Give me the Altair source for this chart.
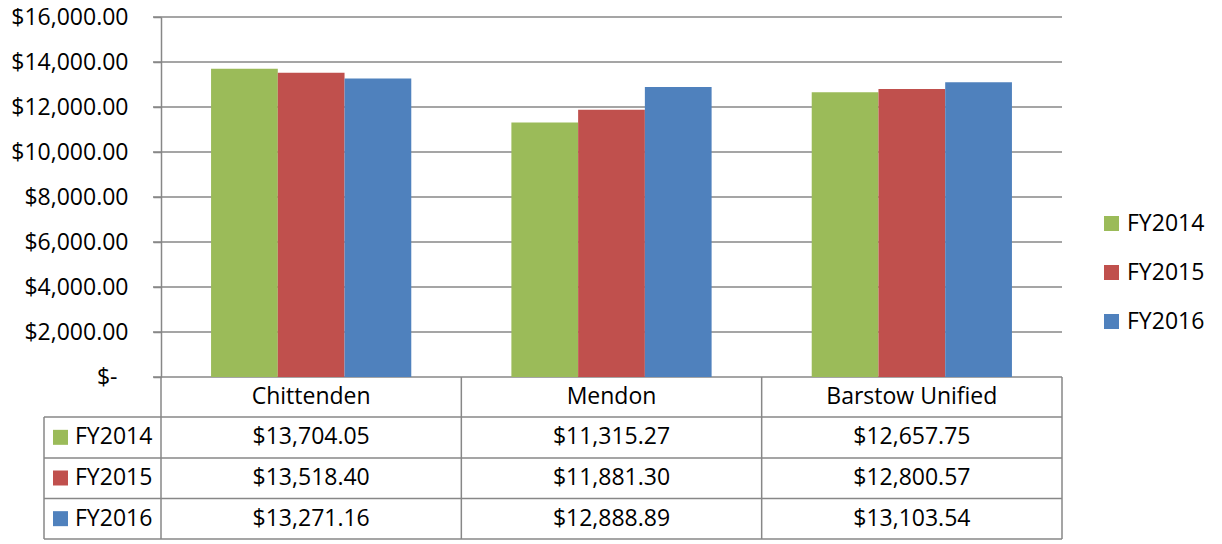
import altair as alt
import pandas as pd

# ---------------- data ----------------
categories = ["Chittenden", "Mendon", "Barstow Unified"]
series = ["FY2014", "FY2015", "FY2016"]
fy2014 = [13704.05, 11315.27, 12657.75]
fy2015 = [13518.40, 11881.30, 12800.57]
fy2016 = [13271.16, 12888.89, 13103.54]
y_ticks = [0, 2000, 4000, 6000, 8000, 10000, 12000, 14000, 16000]
colors = ["#9BBB59", "#C0504D", "#4F81BD"]

rows = []
for s, vals in zip(series, [fy2014, fy2015, fy2016]):
    for c, v in zip(categories, vals):
        rows.append({"category": c, "series": s, "value": v, "label": f"${v:,.2f}"})
df = pd.DataFrame(rows)
cat_df = pd.DataFrame({"category": categories})
ser_df = pd.DataFrame({"series": series})
grid_df = pd.DataFrame({"value": y_ticks})

# ---------------- layout (pixels, relative to plot origin) ----------------
W, H = 1018, 522
PL = 117          # left edge of bar area / axis line
ZERO = 360        # y of the zero line
ROW_LINES = [400, 441, 481.5, 522]
COL_LINES = [PL + (W - PL) * k / 3 for k in range(4)]
FONT = "Open Sans"
FS = 23
GRID = "#878787"
LW = 1.5

yscale = alt.Scale(domain=[0, 16000], range=[ZERO, 0], nice=False, zero=True)
xscale = alt.Scale(domain=categories, range=[PL, W], paddingInner=1 / 3, paddingOuter=1 / 6)
rowscale = alt.Scale(type="point", domain=series, range=[ROW_LINES[0], H], padding=0.5)
cscale = alt.Scale(domain=series, range=colors)

yaxis = alt.Axis(
    values=y_ticks, offset=-PL, grid=False, title=None,
    domainColor=GRID, domainWidth=LW, tickColor=GRID, tickWidth=LW, tickSize=8,
    labelFont=FONT, labelFontSize=FS, labelColor="black",
    labelPadding={"condition": {"test": "datum.value == 0", "value": 36}, "value": 25},
    labelExpr="datum.value == 0 ? '$-' : format(datum.value, '$,.2f')",
)

legend = alt.Legend(
    title=None, orient="none", legendX=1056, legendY=195, direction="vertical",
    symbolType="square", symbolSize=225, symbolStrokeWidth=0,
    labelFont=FONT, labelFontSize=FS, labelColor="black", labelOffset=4,
    rowPadding=25, padding=0,
)

grid = alt.Chart(grid_df).mark_rule(color=GRID, strokeWidth=LW).encode(
    y=alt.Y("value:Q", scale=yscale, axis=yaxis),
    x=alt.value(PL - 8), x2=alt.value(W),
)

bars = alt.Chart(df).mark_bar().encode(
    x=alt.X("category:N", scale=xscale, sort=categories, axis=None),
    xOffset=alt.XOffset("series:N", sort=series,
                        scale=alt.Scale(domain=series, paddingInner=0, paddingOuter=0)),
    y=alt.Y("value:Q", scale=yscale, axis=yaxis),
    color=alt.Color("series:N", scale=cscale, legend=legend),
)

top = alt.layer(grid, bars)

header = alt.Chart(cat_df).mark_text(font=FONT, fontSize=FS, color="black").encode(
    x=alt.X("category:N", scale=xscale, sort=categories, axis=None),
    y=alt.value((ZERO + ROW_LINES[0]) / 2),
    text="category:N",
)

cells = alt.Chart(df).mark_text(font=FONT, fontSize=FS, color="black").encode(
    x=alt.X("category:N", scale=xscale, sort=categories, axis=None),
    y=alt.Y("series:N", scale=rowscale, axis=None),
    text="label:N",
)

keys = alt.Chart(ser_df).mark_square(size=225, opacity=1, strokeWidth=0).encode(
    x=alt.value(16.5),
    y=alt.Y("series:N", scale=rowscale, axis=None),
    color=alt.Color("series:N", scale=cscale, legend=legend),
)

names = alt.Chart(ser_df).mark_text(font=FONT, fontSize=FS, color="black", align="left").encode(
    x=alt.value(31),
    y=alt.Y("series:N", scale=rowscale, axis=None),
    text="series:N",
)

one = alt.Data(values=[{}])
lines = []
for yl in ROW_LINES:
    lines.append(alt.Chart(one).mark_rule(color=GRID, strokeWidth=LW).encode(
        x=alt.value(0), x2=alt.value(W), y=alt.value(yl)))
lines.append(alt.Chart(one).mark_rule(color=GRID, strokeWidth=LW).encode(
    x=alt.value(0), y=alt.value(ROW_LINES[0]), y2=alt.value(H)))
for xl in COL_LINES:
    lines.append(alt.Chart(one).mark_rule(color=GRID, strokeWidth=LW).encode(
        x=alt.value(xl), y=alt.value(ZERO), y2=alt.value(H)))

table = alt.layer(*lines, header, cells, keys, names)

chart = alt.layer(top, table).resolve_scale(y="independent").properties(
    width=W, height=H,
    autosize=alt.AutoSizeParams(type="none"),
    padding={"left": 36, "top": 9, "right": 150, "bottom": 4},
    background="white",
).configure_view(stroke=None)

chart.save("out.html", embed_options={"renderer": "svg", "actions": False})
